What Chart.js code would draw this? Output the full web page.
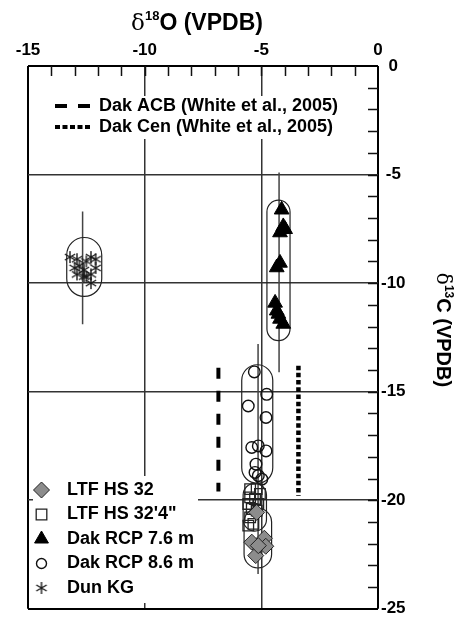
<!DOCTYPE html>
<html>
<head>
<meta charset="utf-8">
<script src="https://cdn.jsdelivr.net/npm/chart.js@4.4.1/dist/chart.umd.min.js"></script>
<style>
  html, body { margin: 0; padding: 0; background: #fff; }
  #wrap { width: 454px; height: 622px; }
</style>
</head>
<body>
<div id="wrap"><canvas id="isotope-chart" width="454" height="622"></canvas></div>
<script>
// sample names (legend order)
const seriesNames = ["LTF HS 32", "LTF HS 32'4\"", "Dak RCP 7.6 m", "Dak RCP 8.6 m", "Dun KG"];
const refNames = ["Dak ACB (White et al., 2005)", "Dak Cen (White et al., 2005)"];

// d18O (x) and d13C (y)
const ltf32X = [-5.41, -4.87, -4.81, -5.24, -5.20, -5.13];
const ltf32Y = [-21.93, -21.75, -22.12, -22.55, -20.56, -22.09];

const ltf324X = [-5.48, -5.20, -5.06, -5.48, -5.27, -5.56, -5.13, -5.41, -5.20, -5.48, -5.34, -5.56];
const ltf324Y = [-19.49, -19.49, -19.71, -19.87, -19.94, -20.17, -20.17, -20.40, -20.48, -20.79, -21.09, -21.17];

const rcp76X = [-4.13, -4.06, -4.20, -3.98, -4.20, -4.34, -4.41, -4.34, -4.20, -4.06, -4.27];
const rcp76Y = [-6.62, -7.39, -7.67, -7.52, -9.07, -9.28, -10.91, -11.27, -11.65, -11.88, -11.42];

const rcp86X = [-5.30, -4.77, -5.56, -4.80, -5.41, -5.13, -4.80, -5.23, -5.27, -4.98, -5.13];
const rcp86Y = [-14.09, -15.12, -15.66, -16.19, -17.57, -17.50, -17.73, -18.34, -18.72, -19.03, -18.87];

const dunX = [-13.2, -12.9, -12.3, -12.1, -12.5, -12.8, -13.0, -12.1, -12.6, -12.9, -12.3, -12.5, -12.3, -12.6];
const dunY = [-8.8, -8.9, -8.8, -8.9, -9.0, -9.2, -9.3, -9.3, -9.4, -9.6, -9.6, -9.7, -10.0, -9.7];

// literature ranges (White et al., 2005)
const dakAcbX = [-6.84, -6.84];
const dakAcbY = [-13.9, -19.6];
const dakCenX = [-3.41, -3.41];
const dakCenY = [-13.8, -19.8];

// group outlines [xMin, xMax, yMin, yMax] and range bars [x, yMin, yMax]
const groupOutlines = [
  [-13.34, -11.84, -10.61, -7.90],
  [-4.76, -3.77, -12.65, -6.18],
  [-5.84, -4.51, -19.22, -13.76],
  [-5.78, -4.78, -21.42, -19.22],
  [-5.74, -4.56, -23.12, -20.37]
];
const rangeBars = [
  [-12.66, -11.9, -6.7],
  [-4.24, -14.1, -4.9],
  [-5.14, -23.4, -12.8]
];

const xTickValues = [-15, -10, -5, 0];
const yTickValues = [0, -5, -10, -15, -20, -25];

const pairs = (xs, ys) => xs.map((x, i) => ({ x: x, y: ys[i] }));
const SANS = "'Liberation Sans', Arial, Helvetica, sans-serif";

// six-armed asterisk marker
function makeAsterisk(size, color) {
  const c = document.createElement("canvas");
  c.width = size; c.height = size;
  const g = c.getContext("2d");
  const r = size / 2 - 1;
  g.strokeStyle = color;
  g.lineWidth = 1.4;
  g.beginPath();
  [90, 30, 150].forEach(a => {
    const t = a * Math.PI / 180;
    g.moveTo(size / 2 - r * Math.cos(t), size / 2 - r * Math.sin(t));
    g.lineTo(size / 2 + r * Math.cos(t), size / 2 + r * Math.sin(t));
  });
  g.stroke();
  return c;
}
const asterisk = makeAsterisk(14, "#1a1a1a");

function capsule(ctx, x0, y0, x1, y1) {
  const r = Math.min(x1 - x0, y1 - y0) / 2;
  ctx.beginPath();
  ctx.moveTo(x0 + r, y0);
  ctx.arcTo(x1, y0, x1, y1, r);
  ctx.arcTo(x1, y1, x0, y1, r);
  ctx.arcTo(x0, y1, x0, y0, r);
  ctx.arcTo(x0, y0, x1, y0, r);
  ctx.closePath();
  ctx.stroke();
}

// text with a superscript: [delta, sup, rest]
function drawIsoLabel(ctx, parts, size, supSize, cx, baseline) {
  const fonts = [size + "px 'DejaVu Serif', 'Liberation Serif', serif",
                 "bold " + supSize + "px " + SANS,
                 "bold " + size + "px " + SANS];
  const widths = parts.map((p, i) => { ctx.font = fonts[i]; return ctx.measureText(p).width; });
  let x = cx - (widths[0] + widths[1] + widths[2]) / 2;
  ctx.textAlign = "left";
  ctx.textBaseline = "alphabetic";
  parts.forEach((p, i) => {
    ctx.font = fonts[i];
    ctx.fillText(p, x, i === 1 ? baseline - size * 0.42 : baseline);
    x += widths[i];
  });
}

const decorations = {
  id: "decorations",
  beforeDatasetsDraw(chart) {
    const { ctx, chartArea: a, scales: { x, y } } = chart;
    ctx.save();
    // legend backgrounds hide the grid
    ctx.fillStyle = "#fff";
    ctx.fillRect(50, 96, 290, 43);
    ctx.fillRect(33, 476, 165, 127);
    // minor ticks, inside, top and right
    ctx.strokeStyle = "#111";
    ctx.lineWidth = 1.5;
    ctx.beginPath();
    for (let v = -14; v < 0; v++) {
      const px = Math.round(x.getPixelForValue(v)) + 0.5;
      ctx.moveTo(px, a.top);
      ctx.lineTo(px, a.top + 10);
    }
    for (let v = -24; v < 0; v++) {
      const py = Math.round(y.getPixelForValue(v)) + 0.5;
      ctx.moveTo(a.right, py);
      ctx.lineTo(a.right - 10, py);
    }
    ctx.stroke();
    // range bars
    ctx.strokeStyle = "#444";
    ctx.lineWidth = 1.5;
    ctx.beginPath();
    rangeBars.forEach(b => {
      const px = x.getPixelForValue(b[0]);
      ctx.moveTo(px, y.getPixelForValue(b[2]));
      ctx.lineTo(px, y.getPixelForValue(b[1]));
    });
    ctx.stroke();
    // group outlines
    ctx.strokeStyle = "#222";
    ctx.lineWidth = 1.2;
    groupOutlines.forEach(o => {
      capsule(ctx, x.getPixelForValue(o[0]), y.getPixelForValue(o[3]),
                   x.getPixelForValue(o[1]), y.getPixelForValue(o[2]));
    });
    ctx.restore();
  },
  afterDraw(chart) {
    const { ctx } = chart;
    const ds = chart.data.datasets;
    ctx.save();
    ctx.fillStyle = "#000";
    drawIsoLabel(ctx, ["\u03b4", "18", "O (VPDB)"], 23, 13, 197, 30);
    ctx.save();
    ctx.translate(437, 330);
    ctx.rotate(Math.PI / 2);
    drawIsoLabel(ctx, ["\u03b4", "13", "C (VPDB)"], 20, 12, 0, 0);
    ctx.restore();

    // top legend (reference ranges)
    ctx.font = "bold 18px " + SANS;
    ctx.textBaseline = "middle";
    ctx.textAlign = "left";
    [5, 6].forEach((k, i) => {
      const yy = 106 + i * 21;
      ctx.save();
      ctx.strokeStyle = ds[k].borderColor;
      ctx.lineWidth = 4;
      ctx.setLineDash(k === 5 ? [12, 11] : [5, 2.5]);
      ctx.beginPath();
      ctx.moveTo(55, yy);
      ctx.lineTo(90, yy);
      ctx.stroke();
      ctx.restore();
      ctx.fillStyle = "#000";
      ctx.fillText(ds[k].label, 99, yy);
    });

    // bottom legend (samples)
    for (let k = 0; k < 5; k++) {
      const yy = 490 + k * 24.5;
      const d = ds[k];
      ctx.save();
      ctx.fillStyle = d.backgroundColor;
      ctx.strokeStyle = d.borderColor;
      ctx.lineWidth = d.borderWidth;
      Chart.helpers.drawPoint(ctx, {
        pointStyle: d.pointStyle, radius: d.legendRadius, rotation: 0, borderWidth: d.borderWidth
      }, 41.5, yy);
      ctx.restore();
      ctx.fillStyle = "#000";
      ctx.fillText(d.label, 67, yy);
    }
    ctx.restore();
  }
};

const isEdge = (ctx, lo, hi) => ctx.tick && (ctx.tick.value === lo || ctx.tick.value === hi);

new Chart(document.getElementById("isotope-chart"), {
  type: "scatter",
  data: {
    datasets: [
      { label: seriesNames[0], data: pairs(ltf32X, ltf32Y), pointStyle: "rectRot", pointRadius: 8, legendRadius: 8,
        backgroundColor: "#8c8c8c", borderColor: "#222", borderWidth: 1 },
      { label: seriesNames[1], data: pairs(ltf324X, ltf324Y), pointStyle: "rect", pointRadius: 7.5, legendRadius: 7.5,
        backgroundColor: "rgba(0,0,0,0)", borderColor: "#222", borderWidth: 1.3 },
      { label: seriesNames[2], data: pairs(rcp76X, rcp76Y), pointStyle: "triangle", pointRadius: 8.5, legendRadius: 8,
        backgroundColor: "#000", borderColor: "#000", borderWidth: 1 },
      { label: seriesNames[3], data: pairs(rcp86X, rcp86Y), pointStyle: "circle", pointRadius: 5.8, legendRadius: 5,
        backgroundColor: "rgba(0,0,0,0)", borderColor: "#111", borderWidth: 1.4 },
      { label: seriesNames[4], data: pairs(dunX, dunY), pointStyle: asterisk, pointRadius: 7, legendRadius: 7,
        backgroundColor: "#1a1a1a", borderColor: "#1a1a1a", borderWidth: 1 },
      { label: refNames[0], data: pairs(dakAcbX, dakAcbY), showLine: true, pointRadius: 0,
        borderColor: "#000", borderWidth: 4, borderDash: [11, 12] },
      { label: refNames[1], data: pairs(dakCenX, dakCenY), showLine: true, pointRadius: 0,
        borderColor: "#000", borderWidth: 4.5, borderDash: [4.5, 2.7] }
    ]
  },
  options: {
    responsive: false,
    animation: false,
    events: [],
    layout: { padding: { left: 28, top: 0, right: 0, bottom: 12 } },
    plugins: { legend: { display: false }, tooltip: { enabled: false } },
    scales: {
      x: {
        type: "linear", position: "top", min: -15, max: 0,
        afterBuildTicks: s => { s.ticks = xTickValues.map(v => ({ value: v })); },
        afterFit: s => { s.height = 66; },
        ticks: { font: { family: SANS, size: 17, weight: "bold" }, color: "#000", padding: 5,
                 callback: v => String(v) },
        grid: { drawTicks: false,
                color: c => isEdge(c, -15, 0) ? "#000" : "#333",
                lineWidth: c => isEdge(c, -15, 0) ? 2 : 1.5 },
        border: { display: false }
      },
      y: {
        type: "linear", position: "right", min: -25, max: 0,
        afterBuildTicks: s => { s.ticks = yTickValues.map(v => ({ value: v })); },
        afterFit: s => { s.width = 76; },
        ticks: { font: { family: SANS, size: 17, weight: "bold" }, color: "#000", padding: 3,
                 crossAlign: "center", callback: v => String(v) },
        grid: { drawTicks: false,
                color: c => isEdge(c, -25, 0) ? "#000" : "#333",
                lineWidth: c => isEdge(c, -25, 0) ? 2 : 1.5 },
        border: { display: false }
      }
    }
  },
  plugins: [decorations]
});
</script>
</body>
</html>
